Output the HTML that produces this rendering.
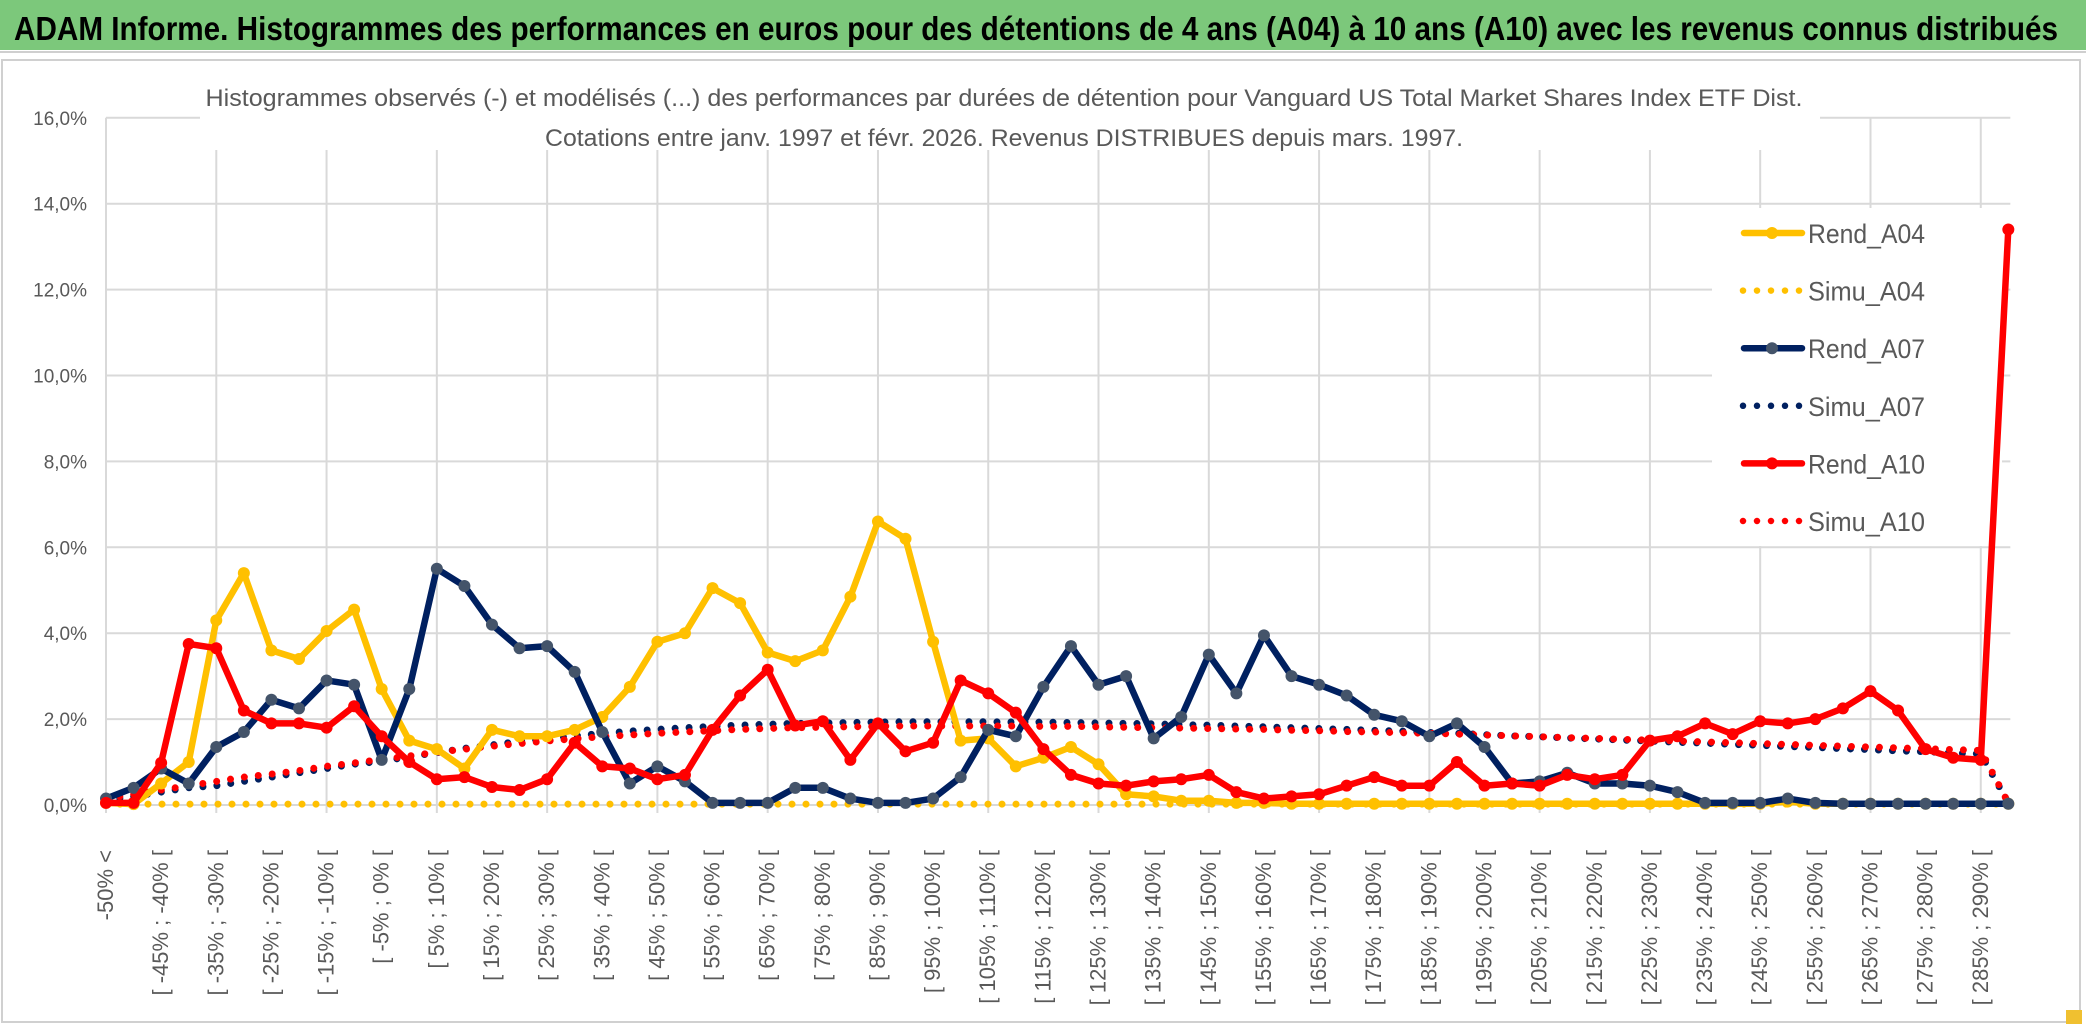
<!DOCTYPE html>
<html><head><meta charset="utf-8">
<style>
html,body{margin:0;padding:0;background:#fff;}
svg{display:block;font-family:"Liberation Sans",sans-serif;}
</style></head>
<body>
<svg id="chart" width="2086" height="1031" viewBox="0 0 2086 1031" xmlns="http://www.w3.org/2000/svg">
  <rect x="0" y="0" width="2086" height="1031" fill="#fff"/>
  <rect x="2" y="60" width="2078" height="962" fill="#fff" stroke="#d0d0d0" stroke-width="2"/>
  <rect x="0" y="0" width="2086" height="50" fill="#7cc87b"/>
  <line x1="0" y1="52" x2="2086" y2="52" stroke="#cfcfcf" stroke-width="2"/>
  <text x="14" y="40" font-size="33" font-weight="bold" fill="#000" textLength="2044" lengthAdjust="spacingAndGlyphs">ADAM Informe. Histogrammes des performances en euros pour des détentions de 4 ans (A04) à 10 ans (A10) avec les revenus connus distribués</text>
  <g id="grid"></g>
  <g id="yaxis"></g>
  <g id="xaxis"></g>
  <rect x="200" y="70" width="1620" height="80" fill="#fff"/>
  <text x="1004" y="106" font-size="24" fill="#595959" text-anchor="middle" textLength="1597" lengthAdjust="spacingAndGlyphs">Histogrammes observés (-) et modélisés (...) des performances par durées de détention pour Vanguard US Total Market Shares Index ETF Dist.</text>
  <text x="1004" y="146" font-size="24" fill="#595959" text-anchor="middle" textLength="918" lengthAdjust="spacingAndGlyphs">Cotations entre janv. 1997 et févr. 2026. Revenus DISTRIBUES depuis mars. 1997.</text>
  <g id="legend"></g>
  <g id="series"></g>
  <rect x="2066" y="1010" width="16" height="14" fill="#f0c030"/>
</svg>
<script>
const yTicks = [0,2,4,6,8,10,12,14,16];
const rendA04 = [0.05,0.02,0.5,1.0,4.3,5.4,3.6,3.4,4.05,4.55,2.7,1.5,1.3,0.85,1.75,1.6,1.6,1.75,2.05,2.75,3.8,4.0,5.05,4.7,3.55,3.35,3.6,4.85,6.6,6.2,3.8,1.5,1.55,0.9,1.1,1.35,0.95,0.25,0.2,0.1,0.1,0.05,0.05,0.03,0.03,0.03,0.03,0.03,0.03,0.03,0.03,0.03,0.03,0.03,0.03,0.03,0.03,0.03,0.03,0.03,0.03,0.08,0.03,0.03,0.03,0.03,0.03,0.03,0.03,0.03];
const simuA04 = [0.02,0.02,0.02,0.02,0.02,0.02,0.02,0.02,0.02,0.02,0.02,0.02,0.02,0.02,0.02,0.02,0.02,0.02,0.02,0.02,0.02,0.02,0.02,0.02,0.02,0.02,0.02,0.02,0.02,0.02,0.02,0.02,0.02,0.02,0.02,0.02,0.02,0.02,0.02,0.02,0.02,0.02,0.02,0.02,0.02,0.02,0.02,0.02,0.02,0.02,0.02,0.02,0.02,0.02,0.02,0.02,0.02,0.02,0.02,0.02,0.02,0.02,0.02,0.02,0.02,0.02,0.02,0.02,0.02,0.02];
const rendA07 = [0.15,0.4,0.85,0.5,1.35,1.7,2.45,2.25,2.9,2.8,1.05,2.7,5.5,5.1,4.2,3.65,3.7,3.1,1.7,0.5,0.9,0.55,0.05,0.05,0.05,0.4,0.4,0.15,0.05,0.05,0.15,0.65,1.75,1.6,2.75,3.7,2.8,3.0,1.55,2.05,3.5,2.6,3.95,3.0,2.8,2.55,2.1,1.95,1.6,1.9,1.35,0.5,0.55,0.75,0.5,0.5,0.45,0.3,0.05,0.05,0.05,0.15,0.05,0.03,0.03,0.03,0.03,0.03,0.03,0.03];
const simuA07 = [0.1,0.2,0.3,0.4,0.45,0.55,0.65,0.75,0.85,0.95,1.02,1.12,1.22,1.32,1.4,1.48,1.55,1.61,1.67,1.72,1.76,1.8,1.83,1.86,1.88,1.9,1.91,1.92,1.93,1.94,1.94,1.94,1.94,1.93,1.93,1.92,1.91,1.9,1.89,1.87,1.86,1.84,1.82,1.8,1.78,1.76,1.74,1.72,1.69,1.67,1.64,1.61,1.59,1.56,1.54,1.51,1.49,1.46,1.44,1.41,1.39,1.36,1.34,1.31,1.29,1.26,1.24,1.21,1.19,0.05];
const rendA10 = [0.05,0.05,0.98,3.75,3.65,2.2,1.9,1.9,1.8,2.3,1.6,1.0,0.6,0.65,0.42,0.35,0.6,1.45,0.9,0.85,0.6,0.7,1.75,2.55,3.15,1.85,1.95,1.05,1.9,1.25,1.45,2.9,2.6,2.15,1.3,0.7,0.5,0.45,0.55,0.6,0.7,0.3,0.15,0.2,0.25,0.45,0.65,0.45,0.45,1.0,0.45,0.5,0.45,0.7,0.6,0.7,1.5,1.6,1.9,1.65,1.95,1.9,2.0,2.25,2.65,2.2,1.3,1.1,1.05,13.4];
const simuA10 = [0.15,0.25,0.35,0.45,0.55,0.65,0.72,0.8,0.9,0.98,1.06,1.14,1.23,1.3,1.37,1.43,1.49,1.54,1.59,1.63,1.67,1.7,1.73,1.76,1.78,1.8,1.81,1.82,1.83,1.84,1.84,1.84,1.84,1.84,1.83,1.83,1.82,1.81,1.8,1.79,1.78,1.77,1.76,1.74,1.73,1.71,1.7,1.68,1.67,1.65,1.63,1.61,1.59,1.57,1.55,1.53,1.51,1.49,1.47,1.45,1.43,1.41,1.39,1.37,1.35,1.33,1.31,1.29,1.27,0.05];
const seriesNames = ["Rend_A04","Simu_A04","Rend_A07","Simu_A07","Rend_A10","Simu_A10"];

function catLabel(i){
  if(i===0) return "-50% <";
  const lo=-55+5*i;
  return "[ "+lo+"% ; "+(lo+5)+"% [";
}
const NS="http://www.w3.org/2000/svg";
const X0=106, XSTEP=27.57, Y0=805, YPER=42.95;
function xs(i){return X0+i*XSTEP;}
function ys(v){return Y0-v*YPER;}
function mk(tag,attrs,parent){const e=document.createElementNS(NS,tag);for(const k in attrs)e.setAttribute(k,attrs[k]);parent.appendChild(e);return e;}

const grid=document.getElementById('grid');
const yaxis=document.getElementById('yaxis');
const xaxis=document.getElementById('xaxis');
const nCat=rendA04.length;
const xRight=xs(nCat-1)+2;
for(const t of yTicks){
  const l=mk('line',{x1:X0,x2:xRight,y1:ys(t),y2:ys(t),stroke:'#d9d9d9','stroke-width':2},grid);
  
  
  const tx=mk('text',{x:87,y:ys(t)+7,'font-size':19,fill:'#595959','text-anchor':'end'},yaxis);
  tx.textContent=t.toFixed(1).replace('.',',')+'%';
  
  
}
for(let i=0;i<nCat;i+=4){
  const l=mk('line',{x1:xs(i),x2:xs(i),y1:ys(16),y2:Y0+8,stroke:'#d9d9d9','stroke-width':2},grid);
  
  
}
for(let i=0;i<nCat;i+=2){
  const x=xs(i)+7, y=850;
  const tx=mk('text',{x:x,y:y,'font-size':22,fill:'#595959','text-anchor':'end',transform:'rotate(-90 '+x+' '+y+')'},xaxis);
  tx.textContent=catLabel(i);
  
  
}

const legend=document.getElementById('legend');
mk('rect',{x:1712,y:208,width:290,height:338,fill:'#fff'},legend);
const legStyles=[
  {color:'#FFC000',marker:'#FFC000'},
  {color:'#FFC000',dotted:true},
  {color:'#002060',marker:'#44546A'},
  {color:'#002060',dotted:true},
  {color:'#FF0000',marker:'#FF0000'},
  {color:'#FF0000',dotted:true}
];
seriesNames.forEach((n,k)=>{
  const y=233+k*57.6;
  const g=mk('g',{},legend);
  
  
  const s=legStyles[k];
  if(s.dotted){
    mk('line',{x1:1743,x2:1803,y1:y,y2:y,stroke:s.color,'stroke-width':6.5,'stroke-linecap':'round','stroke-dasharray':'0 14'},g);
  }else{
    mk('line',{x1:1744,x2:1802,y1:y,y2:y,stroke:s.color,'stroke-width':6.5,'stroke-linecap':'round'},g);
    mk('circle',{cx:1772,cy:y,r:6,fill:s.marker},g);
  }
  const t=mk('text',{x:1808,y:y+10,'font-size':27,fill:'#595959',textLength:117,lengthAdjust:'spacingAndGlyphs'},g);
  t.textContent=n;
});

const series=document.getElementById('series');
const defs=[
  {name:'simu-a04',data:simuA04,color:'#FFC000',dotted:true},
  {name:'simu-a07',data:simuA07,color:'#002060',dotted:true},
  {name:'simu-a10',data:simuA10,color:'#FF0000',dotted:true},
  {name:'rend-a04',data:rendA04,color:'#FFC000',marker:'#FFC000'},
  {name:'rend-a07',data:rendA07,color:'#002060',marker:'#44546A'},
  {name:'rend-a10',data:rendA10,color:'#FF0000',marker:'#FF0000'}
];
for(const d of defs){
  const g=mk('g',{},series);
  
  
  const pts=d.data.map((v,i)=>xs(i).toFixed(1)+','+ys(v).toFixed(1)).join(' ');
  const attrs={points:pts,fill:'none',stroke:d.color,'stroke-width':6.5,'stroke-linejoin':'round','stroke-linecap':'round'};
  if(d.dotted){attrs['stroke-dasharray']='0 14';attrs['stroke-width']=7;}
  const pl=mk('polyline',attrs,g);
  
  
  if(d.marker){
    d.data.forEach((v,i)=>{
      const c=mk('circle',{cx:xs(i),cy:ys(v),r:6,fill:d.marker},g);
      
      
    });
  }
}
</script>
</body></html>
